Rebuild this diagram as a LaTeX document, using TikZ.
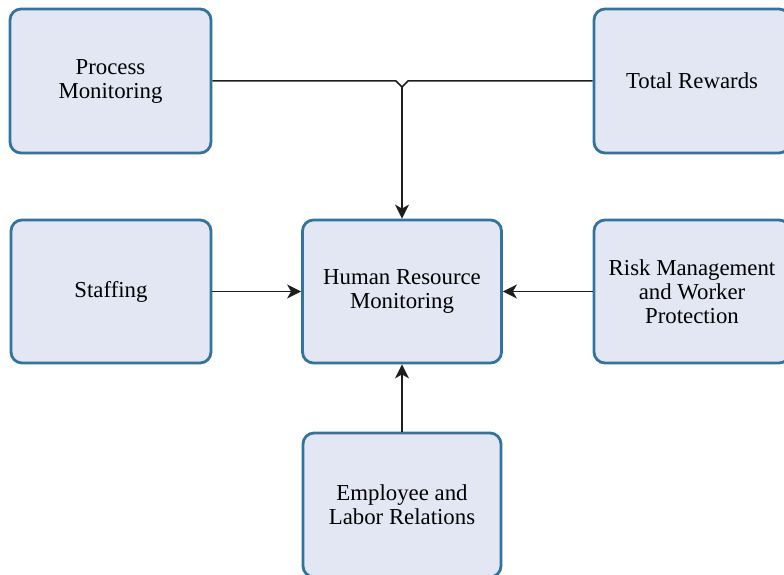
\documentclass[tikz,border=0pt]{standalone}
\usepackage{fontspec}
\setmainfont{Liberation Serif}
\usetikzlibrary{arrows.meta}
\definecolor{boxfill}{HTML}{E3E7F3}
\definecolor{boxline}{HTML}{3274A0}
\definecolor{conn}{HTML}{1E1E1E}
\begin{document}
\begin{tikzpicture}[x=1pt,y=-1pt,
  box/.style={draw=boxline, fill=boxfill, line width=2.8pt, rounded corners=11pt,
    minimum width=#1, minimum height=144pt, align=center, inner sep=2pt,
    font=\fontsize{22.8}{24}\selectfont, text=black},
  box/.default=200pt,
  link/.style={draw=conn, line width=1.5pt},
  arr/.style={link, -{Stealth[length=14pt,width=14pt,inset=4pt]}}]
\useasboundingbox (0,0) rectangle (784,575);
\fill[white] (0,0) rectangle (784,575);
\node[box=201pt] (pm) at (110.5,81) {Process\\Monitoring};
\node[box=196pt] (tr) at (692,81) {Total Rewards};
\node[box=200pt, minimum height=143pt] (st) at (111,291.5) {Staffing};
\node[box=199pt, minimum height=143pt] (hr) at (402,291.5) {Human Resource\\Monitoring};
\node[box=196pt, minimum height=143pt] (rm) at (692,291.5) {Risk Management\\and Worker\\Protection};
\node[box=198pt] (el) at (402,505) {Employee and\\Labor Relations};
\coordinate (j) at (402,87);
\coordinate (jl) at (396,81);
\coordinate (jr) at (408,81);
\draw[link] (pm.east |- jl) -- (jl) -- (j) -- (jr) -- (tr.west |- jr);
\draw[arr] (j) -- (hr.north);
\draw[arr] (st.east) -- (hr.west);
\draw[arr] (rm.west) -- (hr.east);
\draw[arr] (el.north) -- (hr.south);
\end{tikzpicture}
\end{document}
